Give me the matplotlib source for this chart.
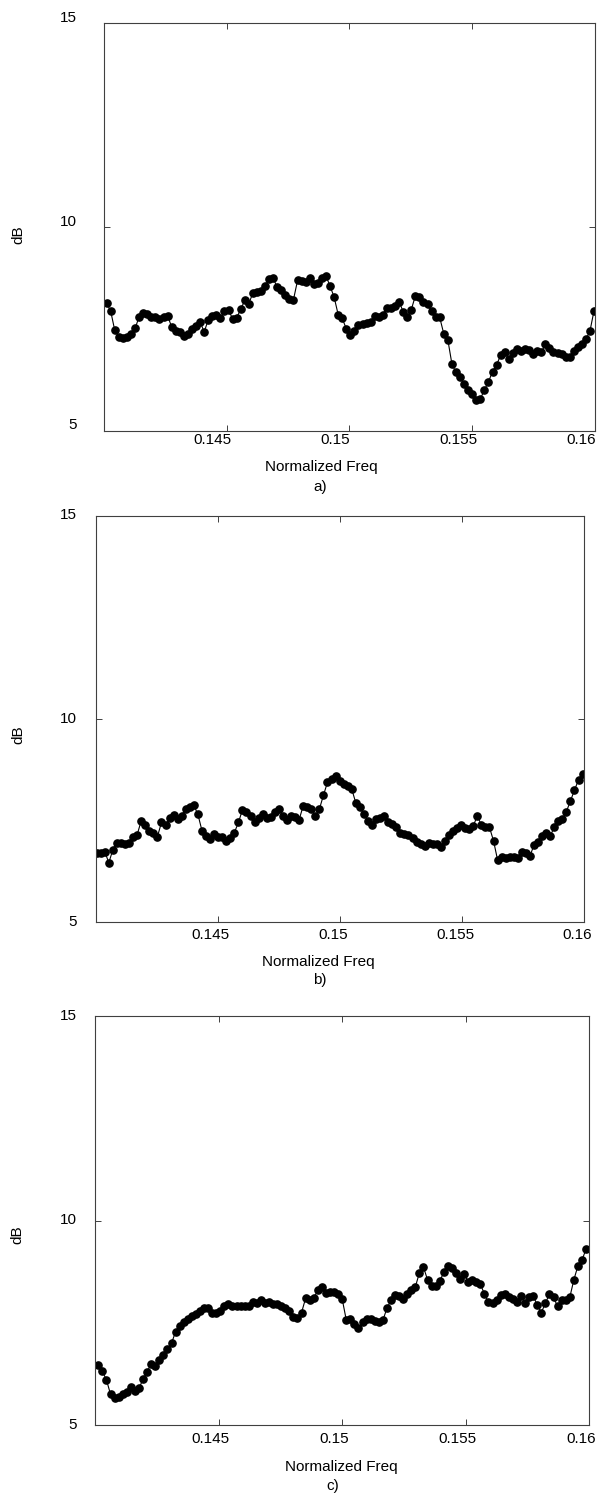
import numpy as np
import matplotlib
matplotlib.use('Agg')
import matplotlib.pyplot as plt
from matplotlib.transforms import ScaledTranslation

plt.rcParams['font.family'] = ['Liberation Sans', 'DejaVu Sans']
plt.rcParams['font.size'] = 11

freq_ticks = [0.145, 0.15, 0.155, 0.16]
freq_tick_labels = ['0.145', '0.15', '0.155', '0.16']
db_ticks = [5, 10, 15]
captions = ['a)', 'b)', 'c)']

# measured spectra (dB), one value per frequency bin
db_a = [8.14, 7.93, 7.46, 7.31, 7.27, 7.29, 7.37, 7.51, 7.80, 7.90,
        7.86, 7.79, 7.78, 7.74, 7.80, 7.82, 7.55, 7.45, 7.43, 7.33,
        7.37, 7.50, 7.57, 7.68, 7.42, 7.72, 7.82, 7.85, 7.76, 7.93,
        7.96, 7.75, 7.77, 7.98, 8.20, 8.12, 8.38, 8.41, 8.43, 8.56,
        8.72, 8.74, 8.52, 8.45, 8.32, 8.24, 8.22, 8.69, 8.67, 8.64,
        8.76, 8.60, 8.63, 8.74, 8.80, 8.55, 8.28, 7.85, 7.76, 7.50,
        7.36, 7.44, 7.59, 7.62, 7.65, 7.67, 7.82, 7.80, 7.85, 8.02,
        8.00, 8.05, 8.17, 7.92, 7.80, 7.97, 8.31, 8.29, 8.16, 8.10,
        7.93, 7.79, 7.78, 7.38, 7.23, 6.64, 6.43, 6.31, 6.15, 6.00,
        5.90, 5.75, 5.78, 6.00, 6.20, 6.45, 6.62, 6.85, 6.93, 6.76,
        6.90, 7.00, 6.96, 7.00, 6.98, 6.88, 6.95, 6.92, 7.12, 7.04,
        6.93, 6.91, 6.88, 6.80, 6.80, 6.96, 7.05, 7.14, 7.24, 7.45,
        7.95]

db_b = [6.69, 6.69, 6.73, 6.46, 6.78, 6.95, 6.95, 6.92, 6.94, 7.10,
        7.15, 7.49, 7.40, 7.25, 7.18, 7.10, 7.45, 7.38, 7.55, 7.63,
        7.53, 7.62, 7.79, 7.82, 7.87, 7.65, 7.25, 7.11, 7.05, 7.17,
        7.09, 7.10, 7.00, 7.06, 7.20, 7.45, 7.76, 7.71, 7.62, 7.47,
        7.55, 7.66, 7.56, 7.59, 7.70, 7.77, 7.60, 7.52, 7.62, 7.59,
        7.52, 7.86, 7.82, 7.78, 7.62, 7.78, 8.12, 8.44, 8.52, 8.60,
        8.46, 8.41, 8.34, 8.27, 7.93, 7.82, 7.66, 7.48, 7.40, 7.53,
        7.55, 7.62, 7.47, 7.41, 7.33, 7.20, 7.16, 7.15, 7.07, 6.98,
        6.92, 6.88, 6.95, 6.93, 6.93, 6.84, 7.00, 7.13, 7.24, 7.31,
        7.38, 7.31, 7.28, 7.36, 7.62, 7.38, 7.35, 7.33, 7.00, 6.53,
        6.59, 6.57, 6.60, 6.61, 6.58, 6.72, 6.70, 6.62, 6.90, 6.98,
        7.12, 7.20, 7.12, 7.33, 7.48, 7.53, 7.72, 7.98, 8.25, 8.50,
        8.65]

db_c = [6.47, 6.31, 6.10, 5.75, 5.66, 5.69, 5.75, 5.80, 5.93, 5.82,
        5.90, 6.12, 6.30, 6.50, 6.44, 6.60, 6.72, 6.86, 7.00, 7.28,
        7.42, 7.52, 7.60, 7.67, 7.72, 7.78, 7.87, 7.85, 7.75, 7.74,
        7.78, 7.90, 7.95, 7.92, 7.90, 7.92, 7.92, 7.90, 8.02, 7.98,
        8.06, 7.99, 8.00, 7.96, 7.96, 7.90, 7.87, 7.80, 7.63, 7.61,
        7.75, 8.10, 8.06, 8.10, 8.30, 8.38, 8.22, 8.25, 8.26, 8.20,
        8.08, 7.57, 7.60, 7.47, 7.37, 7.52, 7.60, 7.59, 7.55, 7.53,
        7.56, 7.85, 8.05, 8.17, 8.15, 8.08, 8.20, 8.31, 8.38, 8.72,
        8.86, 8.55, 8.40, 8.40, 8.52, 8.73, 8.88, 8.85, 8.71, 8.56,
        8.70, 8.50, 8.55, 8.49, 8.45, 8.20, 8.00, 7.98, 8.05, 8.18,
        8.21, 8.13, 8.07, 8.02, 8.16, 7.99, 8.13, 8.16, 7.93, 7.75,
        7.98, 8.20, 8.12, 7.90, 8.05, 8.05, 8.12, 8.55, 8.89, 9.03,
        9.30]

# uniform frequency bins spanning each trace
freq_a = np.linspace(0.14012, 0.15996, len(db_a))
freq_b = np.linspace(0.14004, 0.15993, len(db_b))
freq_c = np.linspace(0.14012, 0.15986, len(db_c))

# per-panel layout: axes rect, y/x tick pads (pt), tick label shifts (pt),
# xlabel, caption and ylabel positions in axes coords
panels = [
    dict(freq=freq_a, db=db_a, rect=[0.1720, 0.7119, 0.8148, 0.2725],
         ypad=19.2, xpad=1.8, xshift=-10.1, yshift=5.0,
         xlab=(0.442, -0.088), cap=(0.440, -0.1375), ylab=(-0.174, 0.480)),
    dict(freq=freq_b, db=db_b, rect=[0.1587, 0.3833, 0.8103, 0.2716],
         ypad=13.5, xpad=4.7, xshift=-5.0, yshift=1.4,
         xlab=(0.456, -0.0985), cap=(0.459, -0.143), ylab=(-0.159, 0.461)),
    dict(freq=freq_c, db=db_c, rect=[0.1582, 0.0468, 0.8194, 0.2736],
         ypad=13.2, xpad=5.0, xshift=-5.8, yshift=1.4,
         xlab=(0.497, -0.1027), cap=(0.481, -0.149), ylab=(-0.157, 0.465)),
]

fig = plt.figure(figsize=(6.03, 14.95), dpi=100)

for p, cap in zip(panels, captions):
    ax = fig.add_axes(p['rect'])
    ax.plot(p['freq'], p['db'], color='black', lw=0.8, marker='o',
            markersize=5.2, markerfacecolor='black', markeredgecolor='black')

    ax.set_xlim(0.14, 0.16)
    ax.set_ylim(5, 15)
    ax.set_xticks(freq_ticks)
    ax.set_xticklabels(freq_tick_labels)
    ax.set_yticks(db_ticks)
    ax.set_yticklabels([str(t) for t in db_ticks])

    for s in ax.spines.values():
        s.set_color('#404040')
        s.set_linewidth(0.8)
    ax.tick_params(direction='in', length=4, width=0.7, color='#404040',
                   top=True, right=True, labelsize=11)
    ax.tick_params(axis='y', pad=p['ypad'])
    ax.tick_params(axis='x', pad=p['xpad'])

    dx = ScaledTranslation(p['xshift'] / 72, 0, fig.dpi_scale_trans)
    for lbl in ax.get_xticklabels():
        lbl.set_transform(lbl.get_transform() + dx)
    dy = ScaledTranslation(0, p['yshift'] / 72, fig.dpi_scale_trans)
    for lbl in ax.get_yticklabels():
        lbl.set_transform(lbl.get_transform() + dy)

    ax.set_xlabel('Normalized Freq', fontsize=11)
    ax.xaxis.label.set_va('center')
    ax.xaxis.set_label_coords(*p['xlab'])
    ax.set_ylabel('dB', fontsize=11)
    ax.yaxis.label.set_va('center')
    ax.yaxis.set_label_coords(*p['ylab'])
    ax.text(p['cap'][0], p['cap'][1], cap, transform=ax.transAxes,
            ha='center', va='center', fontsize=11)

fig.savefig('out.png', dpi=100)
